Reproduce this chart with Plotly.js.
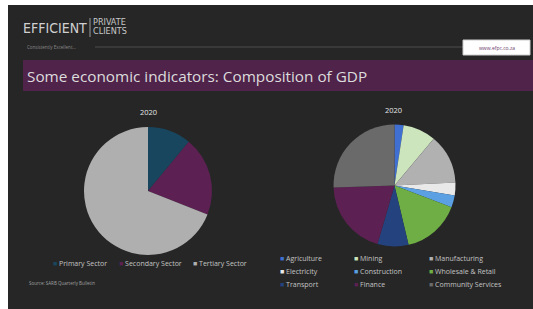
<!DOCTYPE html>
<html>
<head>
<meta charset="utf-8">
<script src="https://cdn.plot.ly/plotly-3.0.1.min.js"></script>
<style>html,body{margin:0;padding:0;background:#ffffff;}#chart{width:533px;height:309px;}</style>
</head>
<body>
<div id="chart"></div>
<script>
// ---- data ----
const sectorLabels = ["Primary Sector", "Secondary Sector", "Tertiary Sector"];
const sectorValues = [11.0, 20.0, 69.0];
const sectorColors = ["#18465F", "#5C2152", "#AFAFAF"];

const industryLabels = ["Agriculture", "Mining", "Manufacturing", "Electricity", "Construction",
  "Wholesale & Retail", "Transport", "Finance", "Community Services"];
const industryValues = [2.4, 8.7, 13.1, 3.4, 3.2, 15.5, 8.2, 20.0, 25.5];
const industryColors = ["#3E6FD1", "#CCE5BD", "#B1B1B1", "#E9E9E9", "#5AA0E2",
  "#6FAE45", "#24427E", "#5C2152", "#6A6A6A"];

const pieTitle = "2020";
const mainTitle = "Some economic indicators: Composition of GDP";
const sourceText = "Source: SARB Quarterly Bulletin";

// ---- layout helpers ----
const W = 533, H = 309;
const px = x => x / W;
const py = y => 1 - y / H;

const traces = [
  {
    type: "pie", labels: sectorLabels, values: sectorValues, sort: false,
    direction: "clockwise", rotation: 0, textinfo: "none", hoverinfo: "label+percent",
    marker: {colors: sectorColors, line: {width: 0}},
    domain: {x: [px(84), px(212)], y: [py(255), py(127)]}, showlegend: false
  },
  {
    type: "pie", labels: industryLabels, values: industryValues, sort: false,
    direction: "clockwise", rotation: 0, textinfo: "none", hoverinfo: "label+percent",
    marker: {colors: industryColors, line: {width: 0}},
    domain: {x: [px(333.5), px(455.5)], y: [py(246.5), py(124.5)]}, showlegend: false
  }
];

const shapes = [
  {type: "rect", xref: "paper", yref: "paper", x0: px(8), x1: 1, y0: 0, y1: py(5),
   fillcolor: "#262626", line: {width: 0}, layer: "below"},
  {type: "line", xref: "paper", yref: "paper", x0: px(95), x1: px(463), y0: py(47), y1: py(47),
   line: {color: "#4d4d4d", width: 1}},
  {type: "line", xref: "paper", yref: "paper", x0: px(90), x1: px(90), y0: py(18), y1: py(37),
   line: {color: "#9a9a9a", width: 1}},
  {type: "rect", xref: "paper", yref: "paper", x0: px(463), x1: px(530), y0: py(55), y1: py(40),
   fillcolor: "#ffffff", line: {color: "#cccccc", width: 1}},
  {type: "rect", xref: "paper", yref: "paper", x0: px(23), x1: 1, y0: py(91), y1: py(60),
   fillcolor: "#50234A", line: {width: 0}, layer: "below"}
];

const ann = [];
const condensed = "DejaVu Sans Condensed, Liberation Sans Narrow, sans-serif";
function label(x, y, text, size, color, family, anchor) {
  ann.push({xref: "paper", yref: "paper", x: px(x), y: py(y), text: text, showarrow: false,
    xanchor: anchor || "left", yanchor: "middle",
    font: {size: size, color: color, family: family || "Open Sans, sans-serif"}});
}
label(21, 28, "EFFICIENT", 14, "#d0d0d0", condensed);
label(91, 22.5, "PRIVATE", 9, "#c8c8c8", condensed);
label(91, 31.5, "CLIENTS", 9, "#c8c8c8", condensed);
label(25, 47, "Consistently Excellent...", 4.5, "#8a8a8a");
label(496.5, 47.5, "www.efpc.co.za", 5, "#6b3a6b", null, "center");
label(25, 76, mainTitle, 15.3, "#dcdcdc");
label(148, 112, pieTitle, 7.5, "#e6e6e6", null, "center");
label(393, 110, pieTitle, 7.5, "#e6e6e6", null, "center");
label(27, 283, sourceText, 4.5, "#a0a0a0");

// legends built from the data arrays
const leftCols = [51, 117, 191];
sectorLabels.forEach((l, i) => {
  label(leftCols[i], 263, '<span style="color:' + sectorColors[i] + '">■</span> ' + l, 7, "#c4c4c4");
});
const rightCols = [278, 352, 427];
const rightRows = [258, 271, 284];
industryLabels.forEach((l, i) => {
  label(rightCols[i % 3], rightRows[Math.floor(i / 3)],
    '<span style="color:' + industryColors[i] + '">■</span> ' + l, 7, "#c4c4c4");
});

const layout = {
  width: W, height: H, margin: {l: 0, r: 0, t: 0, b: 0},
  paper_bgcolor: "#ffffff", plot_bgcolor: "rgba(0,0,0,0)",
  showlegend: false, shapes: shapes, annotations: ann
};
Plotly.newPlot("chart", traces, layout, {displayModeBar: false, staticPlot: true});
</script>
</body>
</html>
